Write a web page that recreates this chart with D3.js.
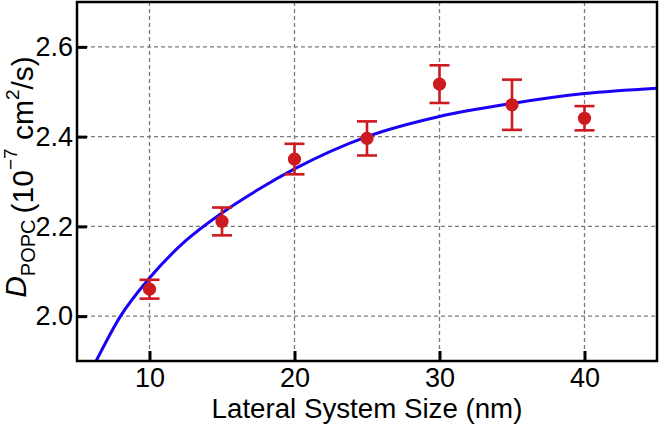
<!DOCTYPE html>
<html>
<head>
<meta charset="utf-8">
<script src="https://cdn.jsdelivr.net/npm/d3@7"></script>
<style>
  html, body { margin: 0; padding: 0; background: #fff; }
  svg { display: block; }
  text { font-family: "Liberation Sans", Arial, sans-serif; fill: #000; }
</style>
</head>
<body>
<svg id="chart" width="660" height="427"></svg>
<script>
// ---- data ----
const sizes = [10, 15, 20, 25, 30, 35, 40];                 // nm
const diffusion = [2.060, 2.211, 2.350, 2.396, 2.517, 2.471, 2.441]; // 1e-7 cm^2/s
const errors = [0.021, 0.031, 0.034, 0.038, 0.042, 0.056, 0.027];
const fitX = [6.32, 8, 10, 12.5, 15, 17.5, 20, 25, 30, 35, 40, 45];
const fitY = [1.90, 2.00, 2.085, 2.168, 2.23, 2.282, 2.328, 2.40, 2.445, 2.474, 2.496, 2.508];
const xTicks = [10, 20, 30, 40];
const yTicks = [2.0, 2.2, 2.4, 2.6];

// ---- layout ----
const W = 660, H = 427;
const m = { left: 77, right: 3, top: 2, bottom: 66 };
const svg = d3.select("#chart");

const x = d3.scaleLinear().domain([5, 45]).range([m.left, W - m.right]);
const y = d3.scaleLinear().domain([1.9, 2.7]).range([H - m.bottom, m.top]);

const red = "#cc1a1f";
const blue = "#1a00f5";

// clip
svg.append("defs").append("clipPath").attr("id", "clip")
  .append("rect").attr("x", m.left).attr("y", m.top)
  .attr("width", W - m.left - m.right).attr("height", H - m.top - m.bottom);

// grid
const grid = svg.append("g");
grid.selectAll("line.vx").data(xTicks).join("line")
  .attr("x1", d => x(d)).attr("x2", d => x(d))
  .attr("y1", m.top).attr("y2", H - m.bottom)
  .attr("stroke", "#7a7a7a").attr("stroke-width", 1.3).attr("stroke-dasharray", "4,3");
grid.selectAll("line.hy").data(yTicks).join("line")
  .attr("y1", d => y(d)).attr("y2", d => y(d))
  .attr("x1", m.left).attr("x2", W - m.right)
  .attr("stroke", "#7a7a7a").attr("stroke-width", 1.3).attr("stroke-dasharray", "4,3");

// fit curve
const fit = fitX.map((v, i) => [v, fitY[i]]);
svg.append("path").datum(fit)
  .attr("clip-path", "url(#clip)")
  .attr("fill", "none").attr("stroke", blue).attr("stroke-width", 3)
  .attr("d", d3.line().x(d => x(d[0])).y(d => y(d[1])).curve(d3.curveMonotoneX));

// error bars + points
const pts = sizes.map((s, i) => ({ s, v: diffusion[i], e: errors[i] }));
const eb = svg.append("g").attr("stroke", red).attr("stroke-width", 2.6);
eb.selectAll("line.v").data(pts).join("line")
  .attr("x1", d => x(d.s)).attr("x2", d => x(d.s))
  .attr("y1", d => y(d.v - d.e)).attr("y2", d => y(d.v + d.e));
eb.selectAll("line.t").data(pts).join("line")
  .attr("x1", d => x(d.s) - 10).attr("x2", d => x(d.s) + 10)
  .attr("y1", d => y(d.v + d.e)).attr("y2", d => y(d.v + d.e));
eb.selectAll("line.b").data(pts).join("line")
  .attr("x1", d => x(d.s) - 10).attr("x2", d => x(d.s) + 10)
  .attr("y1", d => y(d.v - d.e)).attr("y2", d => y(d.v - d.e));
svg.append("g").selectAll("circle").data(pts).join("circle")
  .attr("cx", d => x(d.s)).attr("cy", d => y(d.v)).attr("r", 6.6).attr("fill", red);

// axes (ticks inward)
const xAxis = d3.axisBottom(x).tickValues(xTicks).tickFormat(d3.format("d"))
  .tickSizeInner(-10).tickSizeOuter(0).tickPadding(7);
const yAxis = d3.axisLeft(y).tickValues(yTicks).tickFormat(d3.format(".1f"))
  .tickSizeInner(-10).tickSizeOuter(0).tickPadding(4);

const gx = svg.append("g").attr("transform", `translate(0,${H - m.bottom})`).call(xAxis);
const gy = svg.append("g").attr("transform", `translate(${m.left},0)`).call(yAxis);
[gx, gy].forEach(g => {
  g.select(".domain").remove();
  g.selectAll(".tick line").attr("stroke", "#000").attr("stroke-width", 3);
  g.selectAll(".tick text").attr("font-size", 27).attr("font-family", "Liberation Sans, Arial, sans-serif").attr("fill", "#000");
});
gx.selectAll(".tick text").attr("dy", "0.71em");

// frame
svg.append("rect").attr("x", m.left).attr("y", m.top)
  .attr("width", W - m.left - m.right).attr("height", H - m.top - m.bottom)
  .attr("fill", "none").attr("stroke", "#000").attr("stroke-width", 2.5);

// x label
svg.append("text").attr("x", (m.left + W - m.right) / 2).attr("y", 418)
  .attr("text-anchor", "middle").attr("font-size", 27.7)
  .text("Lateral System Size (nm)");

// y label
const yl = svg.append("text")
  .attr("transform", "translate(33,177) rotate(-90)")
  .attr("text-anchor", "middle").attr("font-size", 30);
yl.append("tspan").attr("font-style", "italic").attr("dy", -7).text("D");
yl.append("tspan").attr("font-size", 20).attr("dy", 9).text("POPC");
yl.append("tspan").attr("dy", -2).text("\u2009(10");
yl.append("tspan").attr("font-size", 19).attr("dy", -16).text("\u22127");
yl.append("tspan").attr("dy", 16).text(" cm");
yl.append("tspan").attr("font-size", 19).attr("dy", -14).text("2");
yl.append("tspan").attr("dy", 14).text("/s)");
</script>
</body>
</html>
